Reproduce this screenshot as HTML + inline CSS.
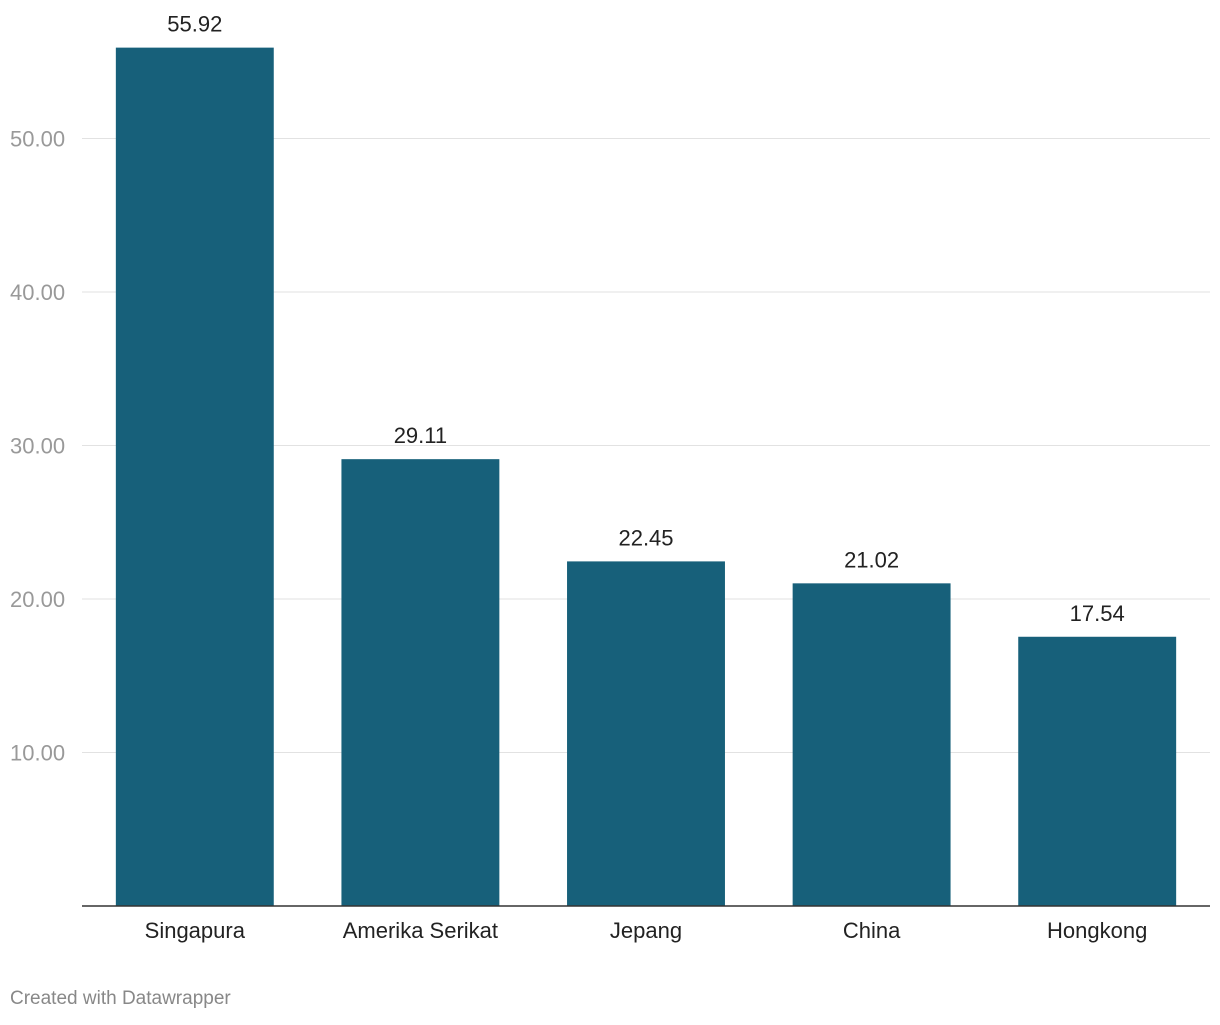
<!DOCTYPE html>
<html><head><meta charset="utf-8"><style>
body{margin:0;background:#fff;font-family:"Liberation Sans",sans-serif;}
svg text{font-family:"Liberation Sans",sans-serif;}
</style></head><body>
<svg id="chart" width="1220" height="1020" xmlns="http://www.w3.org/2000/svg">
<g id="grid"></g>
<g id="bars"></g>
<line x1="82" x2="1210" y1="906" y2="906" stroke="#333" stroke-width="1.5"/>
<text x="10" y="1004" font-size="19" fill="#888">Created with Datawrapper</text>
</svg>
<script>
const categories = ["Singapura","Amerika Serikat","Jepang","China","Hongkong"];
const values = [55.92,29.11,22.45,21.02,17.54];
const valueLabels = ["55.92","29.11","22.45","21.02","17.54"];
const ticks = [10,20,30,40,50];
const tickLabels = ["10.00","20.00","30.00","40.00","50.00"];
const NS="http://www.w3.org/2000/svg";
const x0=82,x1=1210,base=906,pxPer=15.35;
const y=v=>base-v*pxPer;
const band=(x1-x0)/categories.length, bw=band*0.7;
const bx=i=>x0+band*i+(band-bw)/2;
const grid=document.getElementById('grid'), bars=document.getElementById('bars');
ticks.forEach((t,i)=>{
 const l=document.createElementNS(NS,'line');
 
 
 l.setAttribute('x1',x0);l.setAttribute('x2',x1);l.setAttribute('y1',y(t));l.setAttribute('y2',y(t));
 l.setAttribute('stroke','#e2e2e2');l.setAttribute('stroke-width','1');
 grid.appendChild(l);
 const tx=document.createElementNS(NS,'text');
 
 
 tx.setAttribute('x',10);tx.setAttribute('y',y(t)+8);tx.setAttribute('font-size','22');tx.setAttribute('fill','#999');
 tx.textContent=tickLabels[i];grid.appendChild(tx);
});
categories.forEach((c,i)=>{
 const r=document.createElementNS(NS,'rect');
 
 
 r.setAttribute('x',bx(i));r.setAttribute('y',y(values[i]));r.setAttribute('width',bw);r.setAttribute('height',base-y(values[i]));
 r.setAttribute('fill','#17607a');bars.appendChild(r);
 const v=document.createElementNS(NS,'text');
 
 
 v.setAttribute('x',bx(i)+bw/2);v.setAttribute('y',y(values[i])-16);v.setAttribute('font-size','22');v.setAttribute('fill','#222');v.setAttribute('text-anchor','middle');
 v.textContent=valueLabels[i];bars.appendChild(v);
 const cl=document.createElementNS(NS,'text');
 
 
 cl.setAttribute('x',bx(i)+bw/2);cl.setAttribute('y',938);cl.setAttribute('font-size','22');cl.setAttribute('fill','#222');cl.setAttribute('text-anchor','middle');
 cl.textContent=c;bars.appendChild(cl);
});
</script>
</body></html>
